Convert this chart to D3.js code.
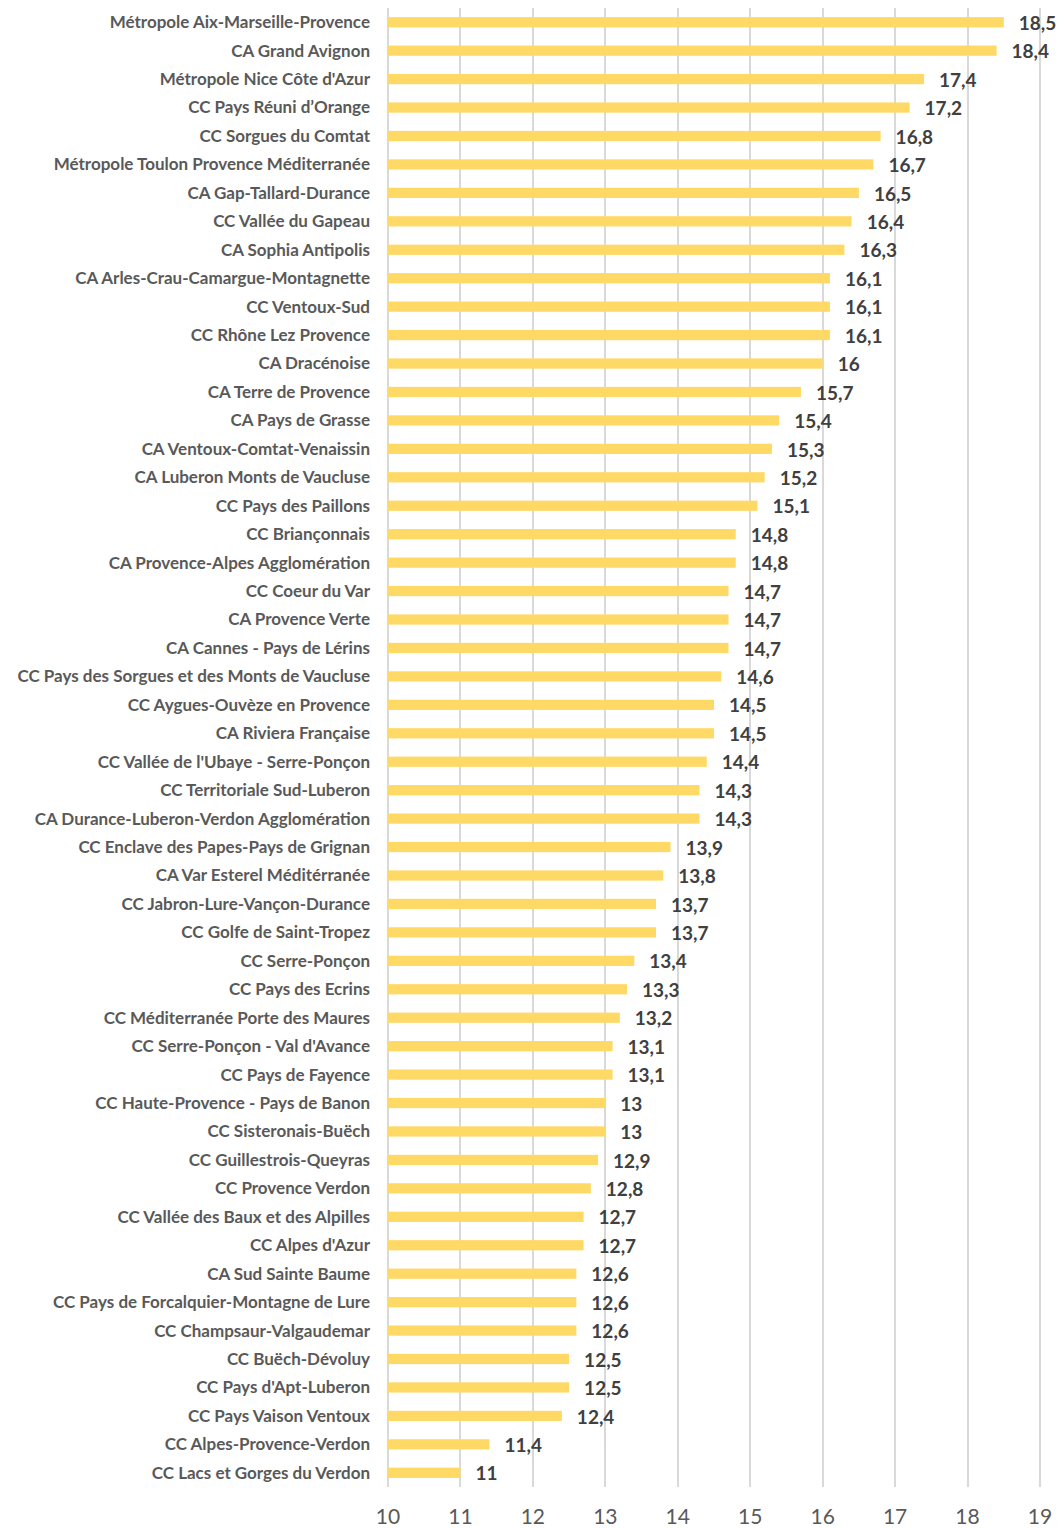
<!DOCTYPE html>
<html>
<head>
<meta charset="utf-8">
<script src="https://cdn.jsdelivr.net/npm/d3@7"></script>
<style>
  body { margin: 0; background: #fff; }
  svg { display: block; }
</style>
</head>
<body>
<svg id="chart"></svg>
<script>
var categories = [
  "Métropole Aix-Marseille-Provence", "CA Grand Avignon", "Métropole Nice Côte d'Azur",
  "CC Pays Réuni d’Orange", "CC Sorgues du Comtat", "Métropole Toulon Provence Méditerranée",
  "CA Gap-Tallard-Durance", "CC Vallée du Gapeau", "CA Sophia Antipolis",
  "CA Arles-Crau-Camargue-Montagnette", "CC Ventoux-Sud", "CC Rhône Lez Provence",
  "CA Dracénoise", "CA Terre de Provence", "CA Pays de Grasse",
  "CA Ventoux-Comtat-Venaissin", "CA Luberon Monts de Vaucluse", "CC Pays des Paillons",
  "CC Briançonnais", "CA Provence-Alpes Agglomération", "CC Coeur du Var",
  "CA Provence Verte", "CA Cannes - Pays de Lérins", "CC Pays des Sorgues et des Monts de Vaucluse",
  "CC Aygues-Ouvèze en Provence", "CA Riviera Française", "CC Vallée de l'Ubaye - Serre-Ponçon",
  "CC Territoriale Sud-Luberon", "CA Durance-Luberon-Verdon Agglomération", "CC Enclave des Papes-Pays de Grignan",
  "CA Var Esterel Méditérranée", "CC Jabron-Lure-Vançon-Durance", "CC Golfe de Saint-Tropez",
  "CC Serre-Ponçon", "CC Pays des Ecrins", "CC Méditerranée Porte des Maures",
  "CC Serre-Ponçon - Val d'Avance", "CC Pays de Fayence", "CC Haute-Provence - Pays de Banon",
  "CC Sisteronais-Buëch", "CC Guillestrois-Queyras", "CC Provence Verdon",
  "CC Vallée des Baux et des Alpilles", "CC Alpes d'Azur", "CA Sud Sainte Baume",
  "CC Pays de Forcalquier-Montagne de Lure", "CC Champsaur-Valgaudemar", "CC Buëch-Dévoluy",
  "CC Pays d'Apt-Luberon", "CC Pays Vaison Ventoux", "CC Alpes-Provence-Verdon",
  "CC Lacs et Gorges du Verdon"
];

var values = [
  18.5, 18.4, 17.4, 17.2, 16.8, 16.7, 16.5, 16.4, 16.3, 16.1,
  16.1, 16.1, 16, 15.7, 15.4, 15.3, 15.2, 15.1, 14.8, 14.8,
  14.7, 14.7, 14.7, 14.6, 14.5, 14.5, 14.4, 14.3, 14.3, 13.9,
  13.8, 13.7, 13.7, 13.4, 13.3, 13.2, 13.1, 13.1, 13, 13,
  12.9, 12.8, 12.7, 12.7, 12.6, 12.6, 12.6, 12.5, 12.5, 12.4,
  11.4, 11
];

var xTicks = [10, 11, 12, 13, 14, 15, 16, 17, 18, 19];

function drawChart() {
  var data = categories.map(function (c, i) {
    return { name: c, value: values[i] };
  });

  var width = 1061, height = 1528;
  var plotLeft = 388, plotRight = 1040, plotTop = 8, plotBottom = 1487;

  var svg = d3.select("#chart")
    .attr("width", width)
    .attr("height", height);

  var xScale = d3.scaleLinear()
    .domain([10, 19])
    .range([plotLeft, plotRight]);

  var yScale = d3.scaleBand()
    .domain(categories)
    .range([plotTop, plotBottom])
    .paddingInner(0.64)
    .paddingOuter(0.32);

  // vertical gridlines
  svg.append("g")
    .selectAll("line")
    .data(xTicks)
    .enter()
    .append("line")
    .attr("x1", function (d) { return Math.round(xScale(d)); })
    .attr("x2", function (d) { return Math.round(xScale(d)); })
    .attr("y1", plotTop)
    .attr("y2", plotBottom)
    .attr("stroke", "#d9d9d9")
    .attr("stroke-width", 2);

  // bars
  svg.append("g")
    .selectAll("rect")
    .data(data)
    .enter()
    .append("rect")
    .attr("x", xScale(10))
    .attr("y", function (d) { return yScale(d.name); })
    .attr("width", function (d) { return xScale(d.value) - xScale(10); })
    .attr("height", yScale.bandwidth())
    .attr("fill", "#ffd966");

  // category labels
  svg.append("g")
    .selectAll("text")
    .data(data)
    .enter()
    .append("text")
    .attr("x", 370)
    .attr("y", function (d) { return yScale(d.name) + yScale.bandwidth() / 2; })
    .attr("dy", "0.35em")
    .attr("text-anchor", "end")
    .attr("font-family", "Lato, 'Open Sans', sans-serif")
    .attr("font-weight", "bold")
    .attr("font-size", "17px")
    .attr("fill", "#595959")
    .text(function (d) { return d.name; });

  // value labels
  svg.append("g")
    .selectAll("text")
    .data(data)
    .enter()
    .append("text")
    .attr("x", function (d) { return xScale(d.value) + 15; })
    .attr("y", function (d) { return yScale(d.name) + yScale.bandwidth() / 2 + 1; })
    .attr("dy", "0.35em")
    .attr("font-family", "Lato, 'Open Sans', sans-serif")
    .attr("font-weight", "bold")
    .attr("font-size", "19px")
    .attr("fill", "#404040")
    .text(function (d) { return String(d.value).replace(".", ","); });

  // x axis tick labels
  svg.append("g")
    .selectAll("text")
    .data(xTicks)
    .enter()
    .append("text")
    .attr("x", function (d) { return xScale(d); })
    .attr("y", 1524)
    .attr("text-anchor", "middle")
    .attr("font-family", "Lato, 'Open Sans', sans-serif")
    .attr("font-size", "21px")
    .attr("fill", "#595959")
    .text(function (d) { return d; });
}

drawChart();
</script>
</body>
</html>
